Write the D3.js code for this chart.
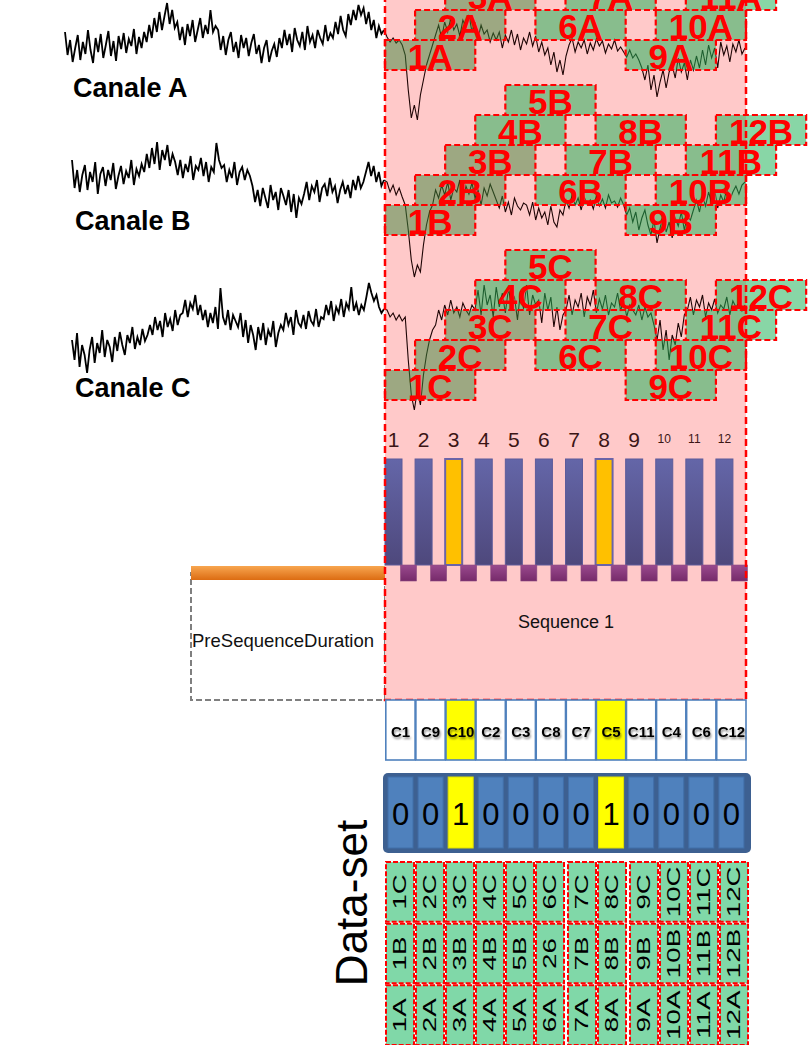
<!DOCTYPE html>
<html><head><meta charset="utf-8">
<script src="https://cdn.jsdelivr.net/npm/d3@7"></script>
<style>html,body{margin:0;padding:0;background:#fff;overflow:hidden}</style>
</head><body>
<svg id="chart" width="812" height="1045"></svg>
<script>
// ---------------- DATA ----------------
const channelNames = ["A", "B", "C"];
const channelLabels = ["Canale A", "Canale B", "Canale C"];

// pre-sequence traces (amplitude units)
const preA = [28,5,20,-2,12,25,0,18,6,30,10,-3,22,8,26,2,15,29,4,19,-1,24,11,27,7,21,14,31,6,23,12,28,
  18,35,22,42,28,48,30,44,57,36,50,32,
  38,20,33,15,36,24,40,18,30,42,22,35,26,50,28,34,
  30,10,24,5,20,28,8,18,2,25,12,22,4,17,26,6,15,-3,12,20,-2,9,16,3,22,
  12,30,15,26,8,32,20,14,28,10,34,18,25,12,30,22,16,35,19,27,
  22,38,26,44,30,24,46,35,50,40,55,45,52,36,48,30,40,22,34,26,30];
const preB = [40,12,30,8,25,35,10,28,18,38,6,26,33,14,30,20,37,11,24,34,16,29,22,40,15,31,24,36,
  28,46,32,52,36,58,30,50,40,55,34,46,38,
  25,40,22,36,28,44,20,34,30,42,24,38,18,33,28,57,40,32,
  35,18,30,22,38,15,28,33,20,30,24,
  14,-2,10,-6,12,2,-8,15,0,8,-10,12,4,-5,10,-12,6,-18,2,-4,
  6,18,0,14,8,20,-2,12,16,4,22,8,14,-3,10,18,6,15,2,20,10,24,12,18,
  28,38,24,34,18,28,14,20];
const preC = [25,5,32,-2,20,10,-8,15,28,2,22,12,35,8,25,18,3,28,14,33,20,10,30,22,38,16,28,20,36,24,30,40,
  30,48,35,44,28,52,38,46,34,55,40,50,
  52,65,48,62,56,70,50,60,45,55,
  38,52,42,58,36,77,48,40,55,35,50,44,38,52,
  28,45,22,40,30,15,38,25,42,20,35,28,44,18,32,40,
  35,52,40,48,30,55,42,38,50,36,54,44,40,56,38,48,
  46,60,50,64,44,58,52,66,48,62,56,78,54,62,50,60,55,
  68,82,72,64,70,58,52,56];

// in-sequence traces
const seqA = [23,18,22,17,20,15,
  5,-30,-58,-45,-60,-35,-20,-5,5,15,
  25,35,22,38,28,42,30,36,24,40,33,45,28,38,22,35,26,30,18,27,
  20,28,12,25,18,30,15,26,10,22,16,28,14,24,8,18,
  5,12,-5,8,-12,0,-15,4,
  15,22,8,18,12,20,6,17,10,21,14,19,7,16,11,20,9,13,
  8,3,10,2,6,0,
  -8,-20,-5,-30,-15,-37,-22,-10,-28,-12,
  -5,-18,2,-12,-3,-20,0,-10,4,-8,
  10,-5,15,2,12,-8,18,5,14,-2,16,8,20,6,12];
const seqB = [18,8,15,5,12,3,
  -5,-30,-60,-77,-65,-72,-45,-25,-12,-5,
  10,2,15,5,18,0,12,8,20,-3,14,6,17,2,10,-5,12,4,16,8,
  0,-8,4,-12,-2,-15,2,-6,-10,-3,
  -5,-15,-2,-20,-8,-18,-12,-25,-6,-22,-27,-10,-15,
  0,-8,5,-5,2,-10,3,-4,0,-9,4,-6,1,-8,5,-3,-1,-7,2,
  -5,-15,-8,-22,-12,-30,-18,-10,-25,-35,-20,-43,-28,-15,-32,-22,-38,-18,-26,-12,-30,-16,-20,
  -10,0,-12,4,-6,8,-3,10,-8,5,-2,12,0,8,14,6,15,18];
const seqC = [55,48,52,45,50,44,48,
  5,-30,-45,-25,-40,-10,10,25,35,
  40,55,45,60,50,65,52,58,48,62,55,50,60,
  55,75,50,80,60,70,48,78,58,72,52,76,62,68,45,74,56,80,50,70,60,65,42,72,55,68,38,58,35,50,
  55,70,50,65,58,72,48,68,60,75,52,66,56,70,50,62,58,72,54,66,48,60,55,
  50,60,45,58,48,52,
  40,25,45,15,35,5,30,20,42,28,50,
  55,68,50,65,58,70,48,62,55,66,52,60,56,68,50,64,58,62,54,60];

// sliding windows
const windowNumbers = [1,2,3,4,5,6,7,8,9,10,11,12];
const windowLevels = [1,2,3,4,5,2,3,4,1,2,3,4];

// stimulation sequence
const flashLabels = ["1","2","3","4","5","6","7","8","9","10","11","12"];
const targetFlags = [0,0,1,0,0,0,0,1,0,0,0,0];
const stimulusCodes = ["C1","C9","C10","C2","C3","C8","C7","C5","C11","C4","C6","C12"];
const binaryValues = [0,0,1,0,0,0,0,1,0,0,0,0];

// data-set
const datasetRows = ["C","B","A"];
const datasetC = ["1C","2C","3C","4C","5C","6C","7C","8C","9C","10C","11C","12C"];
const datasetB = ["1B","2B","3B","4B","5B","26","7B","8B","9B","10B","11B","12B"];
const datasetA = ["1A","2A","3A","4A","5A","6A","7A","8A","9A","10A","11A","12A"];

// ---------------- DRAW ----------------
const svg = d3.select("#chart");
const defs = svg.append("defs");
const FONT = "'Liberation Sans', Arial, sans-serif";

function vGrad(id, c1, c2) {
  const g = defs.append("linearGradient").attr("id", id).attr("x1",0).attr("y1",0).attr("x2",0).attr("y2",1);
  g.append("stop").attr("offset","0%").attr("stop-color",c1);
  g.append("stop").attr("offset","100%").attr("stop-color",c2);
}
vGrad("gBar", "#6466a8", "#4e487c");
vGrad("gSq", "#9a4a8e", "#762a6a");
vGrad("gOr", "#f8a650", "#dc6c12");
const sh = defs.append("filter").attr("id","tshadow").attr("x","-30%").attr("y","-30%").attr("width","160%").attr("height","160%");
sh.append("feDropShadow").attr("dx",1).attr("dy",2).attr("stdDeviation",1.3).attr("flood-color","#000").attr("flood-opacity",0.45);

// slot scale for the 12 flashes
const slot = d3.scaleLinear().domain([0, 12]).range([385, 746]);
const seqLeft = slot(0), seqRight = slot(12);

// pre-sequence dashed box
svg.append("rect").attr("x",191).attr("y",573).attr("width",seqLeft-191).attr("height",127)
  .attr("fill","none").attr("stroke","#7f7f7f").attr("stroke-width",2).attr("stroke-dasharray","6,3");

// pink sequence region
svg.append("rect").attr("x",seqLeft).attr("y",-5).attr("width",seqRight-seqLeft).attr("height",705)
  .attr("fill","#ffc9c9");

// traces
const traceBases = [60, 200, 365];
const preStarts = [65, 72, 72];
const preData = [preA, preB, preC];
const seqData = [seqA, seqB, seqC];
channelNames.forEach((ch, ci) => {
  const y = d3.scaleLinear().domain([0, 100]).range([traceBases[ci], traceBases[ci] - 100]);
  const pre = preData[ci];
  const xp = d3.scaleLinear().domain([0, pre.length - 1]).range([preStarts[ci], seqLeft - 1]);
  svg.append("path").datum(pre)
    .attr("d", d3.line().x((d,i) => xp(i)).y(d => y(d)))
    .attr("fill","none").attr("stroke","#000").attr("stroke-width",1.8).attr("stroke-linejoin","miter");
  const seq = seqData[ci];
  const xs = d3.scaleLinear().domain([-1, seq.length - 1]).range([seqLeft - 1, seqRight - 1]);
  const seqFull = [pre[pre.length-1]].concat(seq);
  svg.append("path").datum(seqFull)
    .attr("d", d3.line().x((d,i) => xs(i-1)).y(d => y(d)))
    .attr("fill","none").attr("stroke","#1e0404").attr("stroke-width",1.1);
  svg.append("text").attr("x", ci === 0 ? 73 : 75).attr("y", [97,230,397][ci])
    .attr("font-family",FONT).attr("font-weight","bold").attr("font-size",27).attr("fill","#000")
    .text(channelLabels[ci]);
});

// sliding windows
const levelTop = [40, 205, 370];
const lvl = d3.scaleLinear().domain([1, 5]).range([0, -120]);
const winW = slot(3) - slot(0);
channelNames.forEach((ch, ci) => {
  const g = svg.append("g");
  windowNumbers.forEach((n, i) => {
    const x = slot(i), top = levelTop[ci] + lvl(windowLevels[i]);
    g.append("rect").attr("x",x).attr("y",top).attr("width",winW).attr("height",30)
      .attr("fill", n <= 3 ? "rgba(60,135,60,0.5)" : "rgba(30,177,87,0.53)")
      .attr("stroke","#ff0000").attr("stroke-width",2.2).attr("stroke-dasharray","6,3");
  });
  windowNumbers.forEach((n, i) => {
    const x = slot(i), top = levelTop[ci] + lvl(windowLevels[i]);
    g.append("text").attr("x", x + winW/2).attr("y", top + 29).attr("text-anchor","middle")
      .attr("font-family",FONT).attr("font-weight","bold").attr("font-size",35).attr("fill","#ff0000")
      .text(n + ch);
  });
});

// flash numbers
flashLabels.forEach((t, i) => {
  const small = t.length > 1;
  svg.append("text").attr("x", slot(i) + 8.5).attr("y", small ? 443 : 447).attr("text-anchor","middle")
    .attr("font-family",FONT).attr("font-size", small ? 12 : 21).attr("fill","#3b1515").text(t);
});
// bars
targetFlags.forEach((f, i) => {
  svg.append("rect").attr("x", slot(i)).attr("y", 459).attr("width", 17).attr("height", 106)
    .attr("fill", f ? "#ffc000" : "url(#gBar)")
    .attr("stroke", f ? "#6a64a8" : "#5d5b9a").attr("stroke-width", f ? 2 : 1);
});
// orange bar
svg.append("rect").attr("x",191).attr("y",566).attr("width",seqLeft-191).attr("height",14).attr("fill","url(#gOr)");
// squares
targetFlags.forEach((f, i) => {
  svg.append("rect").attr("x", slot(i) + 15.5).attr("y", 565).attr("width", 16).attr("height", 16)
    .attr("fill","url(#gSq)").attr("stroke","#8a4a80").attr("stroke-width",0.6);
});

// pink border
svg.append("path")
  .attr("d", `M${seqLeft},-5 L${seqLeft},700 L${seqRight},700 L${seqRight},-5`)
  .attr("fill","none").attr("stroke","#ff0000").attr("stroke-width",2.5).attr("stroke-dasharray","7,4");

svg.append("text").attr("x",192).attr("y",647).attr("font-family",FONT).attr("font-size",18.5).attr("fill","#111")
  .text("PreSequenceDuration");
svg.append("text").attr("x",566).attr("y",628).attr("text-anchor","middle").attr("font-family",FONT)
  .attr("font-size",18).attr("fill","#111").text("Sequence 1");

// stimulus codes row
stimulusCodes.forEach((c, i) => {
  svg.append("rect").attr("x", slot(i)+0.8).attr("y", 700).attr("width", slot(1)-slot(0)-0.8).attr("height", 60)
    .attr("fill", targetFlags[i] ? "#ffff00" : "#fff").attr("stroke","#4f81bd").attr("stroke-width",1.6);
  svg.append("text").attr("x", slot(i) + 15.5).attr("y", 737).attr("text-anchor","middle")
    .attr("font-family",FONT).attr("font-weight","bold").attr("font-size",15).attr("fill","#000")
    .attr("filter","url(#tshadow)").text(c);
});

// binary row
svg.append("rect").attr("x",383).attr("y",773).attr("width",368).attr("height",80).attr("rx",5).attr("fill","#3d6091");
binaryValues.forEach((b, i) => {
  svg.append("rect").attr("x", slot(i)+3).attr("y", 777).attr("width", 25).attr("height", 71)
    .attr("fill", b ? "#ffff00" : "#4f81bd").attr("stroke", b ? "#e0e000" : "#416fa9").attr("stroke-width",1);
  svg.append("text").attr("x", slot(i)+15.5).attr("y", 825).attr("text-anchor","middle")
    .attr("font-family",FONT).attr("font-size",31).attr("fill","#000").text(b);
});

// data-set grid
const rowY = d3.scaleBand().domain(datasetRows).range([861, 1046]);
const rowLabels = [datasetC, datasetB, datasetA];
const colX = i => 385 + i*30 + (i >= 6 ? 2 : 0) + (i >= 8 ? 2 : 0);
datasetRows.forEach((r, ri) => {
  rowLabels[ri].forEach((t, i) => {
    const x = colX(i), y = rowY(r), h = rowY.bandwidth();
    svg.append("rect").attr("x", x+1).attr("y", y+1).attr("width", 28).attr("height", h-2)
      .attr("fill","#80d8a8").attr("stroke","#ff0000").attr("stroke-width",2).attr("stroke-dasharray","5,2");
    svg.append("text").attr("transform", `translate(${x+15},${y+h/2}) rotate(-90) scale(1.5,1)`)
      .attr("text-anchor","middle").attr("dominant-baseline","central")
      .attr("font-family",FONT).attr("font-size",18.5).attr("fill","#000").text(t);
  });
});
svg.append("text").attr("transform","translate(351,903) rotate(-90)").attr("text-anchor","middle")
  .attr("dominant-baseline","central").attr("font-family",FONT).attr("font-size",44).attr("fill","#000")
  .text("Data-set");
</script>
</body></html>
